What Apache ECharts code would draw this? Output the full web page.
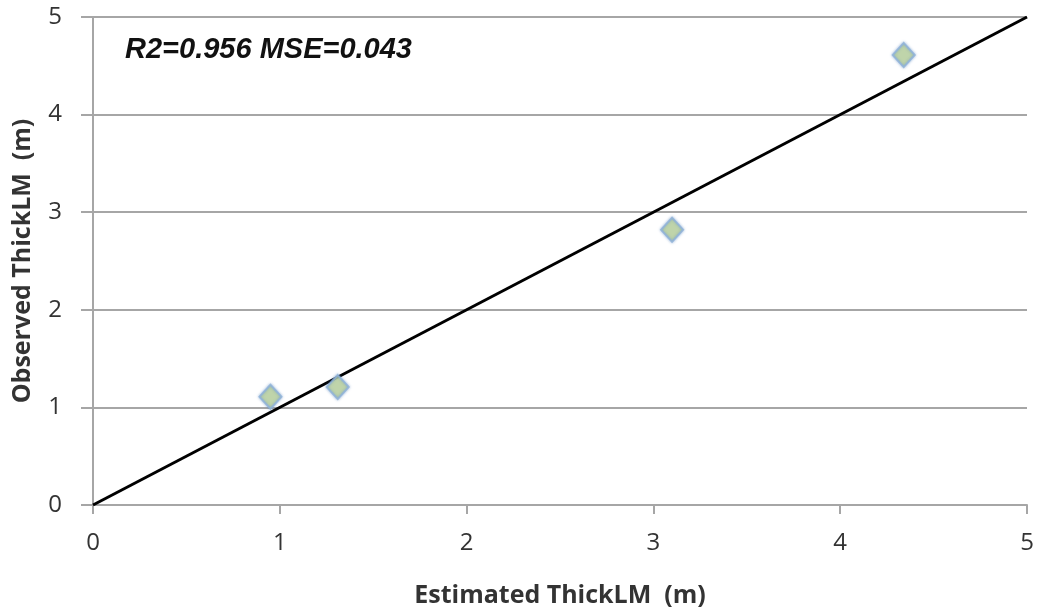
<!DOCTYPE html>
<html>
<head>
<meta charset="utf-8">
<script src="https://cdn.jsdelivr.net/npm/echarts@6/dist/echarts.min.js"></script>
<style>
  html, body { margin: 0; padding: 0; background: #fff; }
  #chart { width: 1042px; height: 616px; }
</style>
</head>
<body>
<div id="chart"></div>
<script>
// Estimated vs observed thickness of the LM layer
const estimated = [0.95, 1.31, 3.10, 4.34];
const observed = [1.11, 1.21, 2.82, 4.61];
const oneToOne = [[0, 0], [5, 5]];
const axisTicks = [0, 1, 2, 3, 4, 5];
const statsText = 'R2=0.956 MSE=0.043';

const points = estimated.map((x, i) => [x, observed[i]]);
const sans = '"Open Sans", Lato, sans-serif';
const labelFont = { fontFamily: sans, fontSize: 24, color: '#333' };
const nameFont = { fontFamily: sans, fontWeight: 'bold', fontSize: 25, color: '#333' };

const chart = echarts.init(document.getElementById('chart'));
chart.setOption({
  animation: false,
  grid: { left: 93, right: 15, top: 17, bottom: 111 },
  title: {
    text: statsText,
    left: 120, top: 30,
    textStyle: {
      fontFamily: '"Liberation Sans", Arial, sans-serif',
      fontStyle: 'italic', fontWeight: 'bold', fontSize: 29, color: '#111'
    }
  },
  xAxis: {
    type: 'value', min: axisTicks[0], max: axisTicks[axisTicks.length - 1], interval: 1,
    name: 'Estimated ThickLM  (m)', nameLocation: 'middle', nameGap: 78,
    nameTextStyle: nameFont,
    axisLine: { show: true, lineStyle: { color: '#a6a6a6', width: 2 } },
    axisTick: { show: true, length: 9, lineStyle: { color: '#a6a6a6', width: 2 } },
    axisLabel: Object.assign({ margin: 26 }, labelFont),
    splitLine: { show: false }
  },
  yAxis: {
    type: 'value', min: axisTicks[0], max: axisTicks[axisTicks.length - 1], interval: 1,
    name: 'Observed ThickLM  (m)', nameLocation: 'middle', nameGap: 58,
    nameTextStyle: nameFont,
    axisLine: { show: true, lineStyle: { color: '#a6a6a6', width: 2 } },
    axisTick: { show: true, length: 12, lineStyle: { color: '#a6a6a6', width: 2 } },
    axisLabel: Object.assign({ margin: 31 }, labelFont),
    splitLine: { show: true, lineStyle: { color: '#a6a6a6', width: 2 } }
  },
  series: [
    {
      type: 'line', data: oneToOne, symbol: 'none', silent: true,
      lineStyle: { color: '#000', width: 3 }, z: 3
    },
    {
      type: 'scatter', data: points, symbol: 'diamond', symbolSize: [22, 24],
      itemStyle: {
        color: '#c4d89c', borderColor: '#8fb1d9', borderWidth: 2,
        shadowBlur: 3, shadowColor: 'rgba(79,129,189,0.6)'
      },
      z: 4
    }
  ]
});
</script>
</body>
</html>
